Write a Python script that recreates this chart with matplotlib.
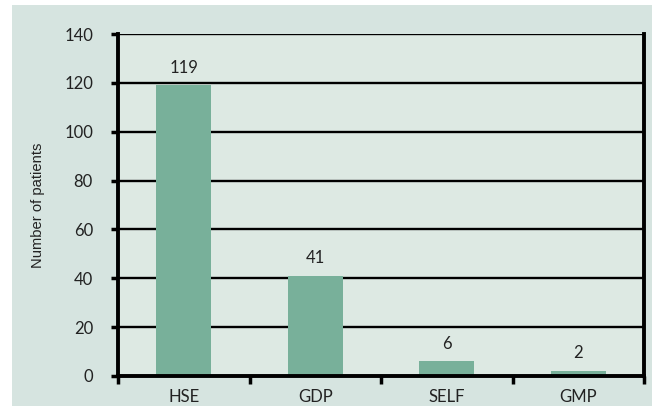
import matplotlib
matplotlib.use("Agg")
import matplotlib.pyplot as plt
from matplotlib.patches import Rectangle
from matplotlib.ticker import FixedLocator

categories = ["HSE", "GDP", "SELF", "GMP"]
values = [119, 41, 6, 2]
yticks = [0, 20, 40, 60, 80, 100, 120, 140]

W, H = 652, 407
fig = plt.figure(figsize=(W / 100, H / 100), dpi=100, facecolor="white")
fig.patches.append(Rectangle((12 / W, 1 / H), (W - 12) / W, (H - 6) / H,
                             transform=fig.transFigure, facecolor="#d6e4e0",
                             edgecolor="none", zorder=-10))

left, right, bottom, top = 118 / W, 644 / W, (H - 376) / H, (H - 34) / H
ax = fig.add_axes([left, bottom, right - left, top - bottom])
ax.set_facecolor("#dde9e3")

x = list(range(len(categories)))
bars = ax.bar(x, values, width=0.42, color="#78b09a", zorder=3)
ax.set_xlim(-0.5, len(categories) - 0.5)
ax.set_ylim(0, 140)
ax.set_yticks(yticks)
ax.set_xticks(x)
ax.set_xticklabels(categories, family="Lato", fontsize=12, color="#222222")
ax.xaxis.set_minor_locator(FixedLocator([i - 0.5 for i in range(len(categories) + 1)]))
ax.tick_params(axis="x", which="major", length=0, pad=9)
ax.tick_params(axis="x", which="minor", length=6, width=2.5, direction="out", color="black")
ax.tick_params(axis="y", length=5, width=2.5, direction="out", pad=13, labelsize=12)
for lab in ax.get_yticklabels():
    lab.set_family("Lato")
    lab.set_color("#222222")

ax.grid(axis="y", color="black", linewidth=1.7, zorder=1)
ax.set_axisbelow(True)
for s in ["left", "bottom", "right"]:
    ax.spines[s].set_linewidth(2.8)
    ax.spines[s].set_zorder(4)
ax.spines["top"].set_visible(False)

for xi, v in zip(x, values):
    ax.annotate(str(v), (xi, v), xytext=(0, 7), textcoords="offset points",
                ha="center", va="bottom", family="Lato", fontsize=12, color="#222222")

ax.set_ylabel("Number of patients", family="Liberation Sans", fontsize=10.6,
              color="#222222", labelpad=14)

fig.savefig("out.png", dpi=100, facecolor="white")
